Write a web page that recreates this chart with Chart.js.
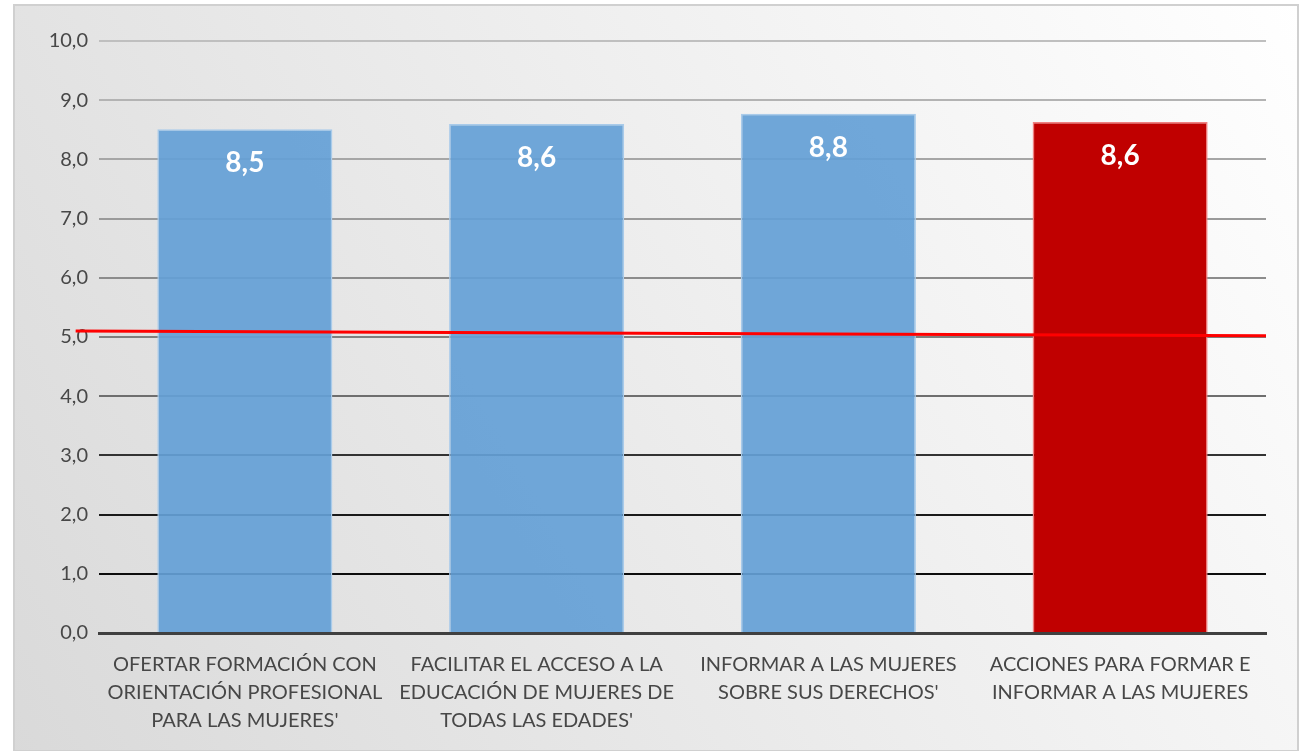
<!DOCTYPE html>
<html>
<head>
<meta charset="utf-8">
<script src="https://cdn.jsdelivr.net/npm/chart.js@4/dist/chart.umd.min.js"></script>
<style>
  html, body { margin: 0; padding: 0; background: #fff; }
  #wrap { width: 1301px; height: 751px; }
</style>
</head>
<body>
<div id="wrap"><canvas id="grafico" width="1301" height="751"></canvas></div>
<script>
// datos del gráfico
const categorias = [
  ["OFERTAR FORMACIÓN CON", "ORIENTACIÓN PROFESIONAL", "PARA LAS MUJERES'"],
  ["FACILITAR EL ACCESO A LA", "EDUCACIÓN DE MUJERES DE", "TODAS LAS EDADES'"],
  ["INFORMAR A LAS MUJERES", "SOBRE SUS DERECHOS'"],
  ["ACCIONES PARA FORMAR E", "INFORMAR A LAS MUJERES"]
];
const valores = [8.51, 8.6, 8.77, 8.63];
const etiquetas = ["8,5", "8,6", "8,8", "8,6"];
// línea de referencia (inicio / fin)
const lineaX = [-0.02, 1];
const lineaY = [5.10, 5.02];

const coloresBarra = ["rgba(100,160,214,0.92)", "rgba(100,160,214,0.92)", "rgba(100,160,214,0.92)", "#c00000"];
const bordesBarra = ["#a9cbea", "#a9cbea", "#a9cbea", "#f08080"];
const colorRejilla = ["#404040", "#0d0d0d", "#1a1a1a", "#333333", "#6e6e6e", "#7f7f7f", "#8c8c8c", "#9a9a9a", "#a6a6a6", "#b3b3b3", "#bfbfbf"];

const fondo = {
  id: "fondo",
  beforeDraw(chart) {
    const ctx = chart.ctx;
    ctx.save();
    ctx.fillStyle = "#ffffff";
    ctx.fillRect(0, 0, chart.width, chart.height);
    const g = ctx.createLinearGradient(chart.width, 0, 0, chart.height);
    g.addColorStop(0, "#ffffff");
    g.addColorStop(0.5, "#ececec");
    g.addColorStop(1, "#d9d9d9");
    ctx.fillStyle = g;
    ctx.fillRect(14, 5, 1284, 746);
    ctx.strokeStyle = "#d0d0d0";
    ctx.lineWidth = 2;
    ctx.strokeRect(14, 5, 1284, 746);
    ctx.restore();
  }
};

const etiquetasDatos = {
  id: "etiquetasDatos",
  afterDatasetsDraw(chart) {
    const ctx = chart.ctx;
    const meta = chart.getDatasetMeta(0);
    ctx.save();
    ctx.fillStyle = "#ffffff";
    ctx.font = "bold 28px Lato, 'Open Sans', sans-serif";
    ctx.textAlign = "center";
    ctx.textBaseline = "middle";
    meta.data.forEach((bar, i) => {
      ctx.fillText(etiquetas[i], bar.x, bar.y + 34);
    });
    ctx.restore();
  }
};

new Chart(document.getElementById("grafico"), {
  data: {
    labels: categorias,
    datasets: [
      {
        type: "bar",
        data: valores,
        backgroundColor: coloresBarra,
        borderColor: bordesBarra,
        borderWidth: 1.5,
        barPercentage: 0.6,
        categoryPercentage: 1,
        grouped: false,
        order: 2
      },
      {
        type: "line",
        data: lineaX.map((x, i) => ({ x: x, y: lineaY[i] })),
        xAxisID: "x2",
        borderColor: "#ff0000",
        borderWidth: 3,
        pointRadius: 0,
        clip: false,
        order: 1
      }
    ]
  },
  options: {
    responsive: false,
    animation: false,
    layout: { padding: { top: 41, right: 35, left: 0, bottom: 0 } },
    plugins: {
      legend: { display: false },
      tooltip: { enabled: false }
    },
    scales: {
      x: {
        grid: { display: false, drawTicks: false },
        border: { display: true, color: "#404040", width: 3 },
        ticks: {
          color: "#474747",
          font: { family: "Lato, 'Open Sans', sans-serif", size: 20, lineHeight: 1.4 },
          padding: 18,
          maxRotation: 0,
          autoSkip: false
        },
        afterFit(scale) { scale.height = 118; }
      },
      x2: {
        type: "linear",
        display: false,
        min: 0,
        max: 1
      },
      y: {
        min: 0,
        max: 10,
        ticks: {
          stepSize: 1,
          color: "#474747",
          font: { family: "Lato, 'Open Sans', sans-serif", size: 20 },
          padding: 11,
          callback: v => v.toFixed(1).replace(".", ",")
        },
        grid: {
          drawTicks: false,
          lineWidth: 2,
          color: c => colorRejilla[c.index] || "#bfbfbf"
        },
        border: { display: false },
        afterFit(scale) { scale.width = 99; }
      }
    }
  },
  plugins: [fondo, etiquetasDatos]
});
</script>
</body>
</html>
